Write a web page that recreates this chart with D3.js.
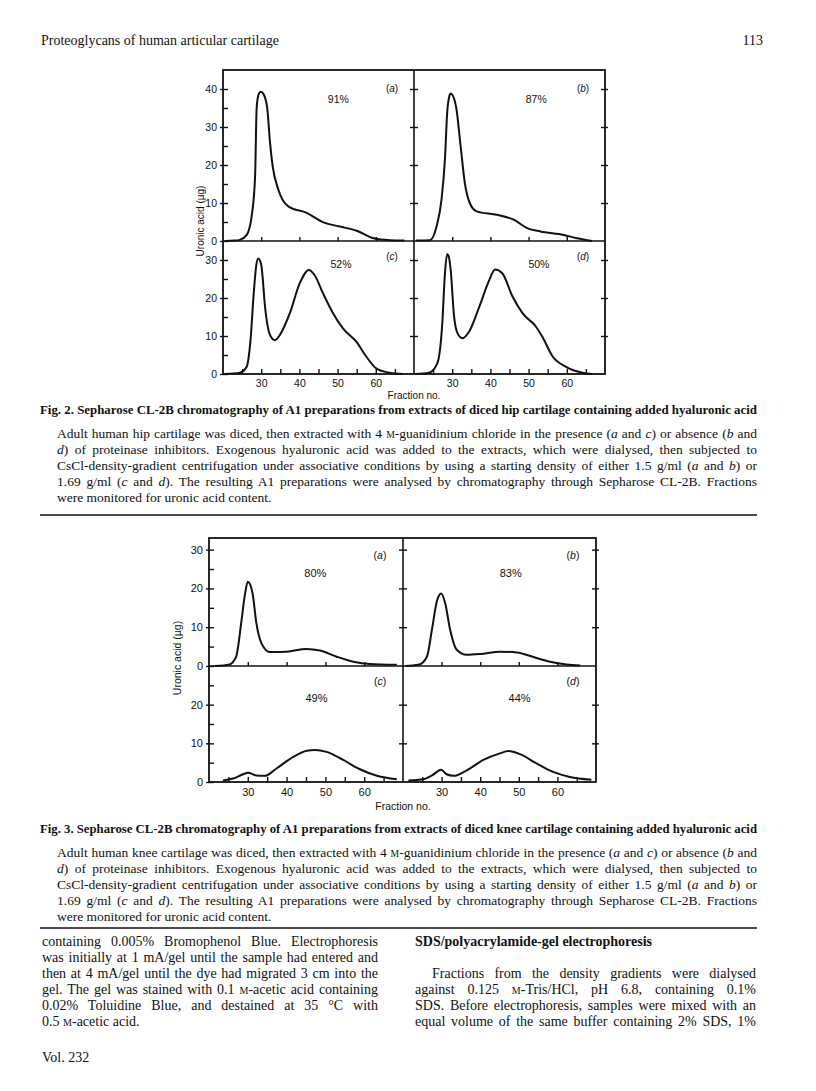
<!DOCTYPE html>
<html>
<head>
<meta charset="utf-8">
<script src="https://cdn.jsdelivr.net/npm/d3@7"></script>
<style>
  body { margin: 0; background: #fff; }
  svg { display: block; }
</style>
</head>
<body>
<script>
// fraction axis, shared by every panel
var fracDomain = [20, 70];
var fracMajor = [30, 40, 50, 60];
var fracMinor = [25, 35, 45, 55, 65];

// Fig. 2 (hip) y ticks
var hipTopTicks = [0, 10, 20, 30, 40];
var hipTopMinor = [5, 15, 25, 35];
var hipBotTicks = [0, 10, 20, 30];
var hipBotMinor = [5, 15, 25];

// Fig. 3 (knee) y ticks
var kneeTopTicks = [0, 10, 20, 30];
var kneeTopMinor = [5, 15, 25];
var kneeBotTicks = [0, 10, 20];
var kneeBotMinor = [5, 15, 25];

// [fraction no., uronic acid ug]
var hipA = [[20.5,0],[23,0.1],[24.4,0.3],[26.2,1.6],[27.5,6.5],[28.4,17],[28.8,34.8],[29.3,38.5],[29.9,39.3],[30.7,38.5],[31.6,34.8],[32.3,26],[33,19.7],[34.5,13.5],[37.1,9.1],[41.9,7.4],[46.3,4.9],[50.6,3.8],[55,2.7],[59.4,0.7],[63.7,0.2],[67.5,0.1]];
var hipB = [[20.5,0.1],[24.2,0.2],[25.9,3.8],[27.2,10.9],[28.1,21.5],[28.7,34],[29.2,37.9],[29.6,38.8],[30.2,38.2],[31.1,34.8],[32.2,25],[33.3,15.3],[34.6,10],[36.4,7.8],[41.7,6.9],[46.1,5.6],[49.6,3.4],[53.1,2.5],[59.2,1.6],[62.7,0.7],[66.6,0]];
var hipC = [[20.5,0],[24.4,0.35],[26.2,1.9],[27.2,8.9],[28.1,22],[28.7,28.5],[29.2,30.4],[29.7,29.8],[30.1,28.2],[31,17.7],[32.3,10.3],[33.6,8.9],[34.9,10.3],[37.5,16],[40.1,23.9],[42.5,27.4],[44,26],[46.2,21.2],[48.8,16],[51.4,12],[54.9,8.5],[57.5,4.6],[60.1,1.5],[63.6,0.35],[67.1,0]];
var hipD = [[20.4,0],[23.9,0.35],[26.1,2.8],[27.4,13.3],[28.1,26.5],[28.7,31.6],[29.2,30.5],[29.6,27.4],[30.5,15.1],[31.4,10.7],[32.7,9.4],[34.4,11.1],[37.1,17.7],[39.7,24.7],[41.2,27.5],[43.1,26.5],[45.8,20.4],[48.4,16],[51.9,12.5],[53.6,9.8],[56.3,4.6],[59.8,1.9],[64.1,0.35],[66.7,0]];

var kneeA = [[21.5,0],[25.3,0.4],[27,2.4],[28.3,11.1],[29.2,18],[30,21.7],[31.2,18.9],[32.2,11.1],[33.5,5.9],[35.7,3.6],[40,3.7],[45.1,4.4],[48.6,4],[52.9,2.4],[57.2,1.1],[61.5,0.5],[68.4,0.3]];
var kneeB = [[20.6,0],[24,0.3],[26.2,2.4],[27.5,9.4],[28.8,16.8],[29.9,18.7],[30.9,16.3],[32.2,9.4],[33.9,4.2],[36.5,2.9],[40,3.1],[45.1,3.7],[49.5,3.5],[53.8,2.3],[58.1,1.1],[62.4,0.4],[65.9,0.1]];
var kneeC = [[23.6,0.4],[26.2,0.9],[28.8,2],[30.1,2.4],[32.2,1.7],[34.4,1.6],[37.4,3.5],[41.7,6.5],[45.2,8.1],[47.3,8.3],[50.3,7.8],[54.6,5.7],[58.9,3.3],[63.3,1.6],[68.4,0.7]];
var kneeD = [[21.4,0.4],[25.3,0.7],[27.5,1.7],[29.9,3.2],[31.3,2],[33.1,1.6],[36.5,3],[40.8,5.7],[45.1,7.4],[47.3,8],[50.3,7.2],[54.6,4.8],[58.9,2.6],[63.2,1.3],[68.8,0.6]];

var hipPercents = ["91%", "87%", "52%", "50%"];
var kneePercents = ["80%", "83%", "49%", "44%"];
var panelLetters = ["a", "b", "c", "d"];

var sans = "'Liberation Sans', Arial, sans-serif";
var serif = "'Liberation Serif', 'Times New Roman', serif";
var ink = "#111";

var svg = d3.select("body").append("svg")
    .attr("width", 816)
    .attr("height", 1091);

function drawFigure(f) {
  var g = svg.append("g");
  var xL = d3.scaleLinear().domain(fracDomain).range([f.left, f.mid]);
  var xR = d3.scaleLinear().domain(fracDomain).range([f.mid, f.right]);
  var yT = d3.scaleLinear().domain([0, f.topMax]).range([f.zero, f.top]);
  var yB = d3.scaleLinear().domain([0, f.botMax]).range([f.bottom, f.zero]);

  // y ticks: labels on the left, inward ticks, crossing ticks on divider and right edge
  [[yT, f.topTicks, f.topMinor], [yB, f.botTicks, f.botMinor]].forEach(function (p) {
    var inner = p[1].filter(function (v) { return v > 0; });
    g.append("g").attr("transform", "translate(" + f.left + ",0)")
      .call(d3.axisLeft(p[0]).tickValues(p[1]).tickSize(3).tickPadding(3));
    g.append("g").attr("transform", "translate(" + f.left + ",0)")
      .call(d3.axisRight(p[0]).tickValues(p[1].concat(p[2])).tickSize(5).tickFormat(""));
    g.append("g").attr("transform", "translate(" + (f.mid - 4) + ",0)")
      .call(d3.axisRight(p[0]).tickValues(inner).tickSize(8).tickFormat(""));
    g.append("g").attr("transform", "translate(" + (f.right - 4) + ",0)")
      .call(d3.axisRight(p[0]).tickValues(inner).tickSize(7).tickFormat(""));
  });

  // x ticks
  [xL, xR].forEach(function (x) {
    g.append("g").attr("transform", "translate(0," + f.bottom + ")")
      .call(d3.axisBottom(x).tickValues(fracMajor).tickSize(0).tickPadding(6));
    g.append("g").attr("transform", "translate(0," + f.bottom + ")")
      .call(d3.axisTop(x).tickValues(fracMajor.concat(fracMinor)).tickSize(5).tickFormat(""));
    g.append("g").attr("transform", "translate(0," + f.zero + ")")
      .call(d3.axisTop(x).tickValues(fracMajor).tickSize(4).tickFormat(""));
  });

  g.selectAll(".domain").remove();
  g.selectAll(".tick line").attr("stroke", ink).attr("stroke-width", 1.4);
  g.selectAll(".tick text").attr("fill", ink)
    .attr("font-family", sans).attr("font-size", f.fontSize);

  // frame and dividers
  g.append("rect")
    .attr("x", f.left).attr("y", f.top)
    .attr("width", f.right - f.left).attr("height", f.bottom - f.top)
    .attr("fill", "none").attr("stroke", ink).attr("stroke-width", 1.8);
  g.append("line")
    .attr("x1", f.mid).attr("x2", f.mid).attr("y1", f.top).attr("y2", f.bottom)
    .attr("stroke", ink).attr("stroke-width", 1.6);
  g.append("line")
    .attr("x1", f.left).attr("x2", f.right).attr("y1", f.zero).attr("y2", f.zero)
    .attr("stroke", ink).attr("stroke-width", 1.6);

  var panels = [
    { x: xL, y: yT, data: f.series[0] },
    { x: xR, y: yT, data: f.series[1] },
    { x: xL, y: yB, data: f.series[2] },
    { x: xR, y: yB, data: f.series[3] }
  ];

  panels.forEach(function (p, i) {
    var line = d3.line()
      .x(function (d) { return p.x(d[0]); })
      .y(function (d) { return p.y(d[1]); })
      .curve(d3.curveMonotoneX);
    g.append("path")
      .attr("d", line(p.data))
      .attr("fill", "none")
      .attr("stroke", ink)
      .attr("stroke-width", 2)
      .attr("stroke-linejoin", "round");

    var top = i < 2;
    var pct = top ? f.pctTop : f.pctBot;
    var let_ = top ? f.letTop : f.letBot;
    g.append("text")
      .attr("x", p.x(f.pctX[i])).attr("y", p.y(pct))
      .attr("text-anchor", "middle")
      .attr("font-family", sans).attr("font-size", f.fontSize).attr("fill", ink)
      .text(f.percents[i]);
    var lt = g.append("text")
      .attr("x", p.x(70) - f.letOffset).attr("y", p.y(let_))
      .attr("text-anchor", "middle")
      .attr("font-family", sans).attr("font-size", f.fontSize - 0.5).attr("fill", ink);
    lt.append("tspan").text("(");
    lt.append("tspan").attr("font-style", "italic").text(panelLetters[i]);
    lt.append("tspan").text(")");
  });

  g.append("text")
    .attr("transform", "translate(" + f.yLabelX + "," + f.yLabelY + ") rotate(-90)")
    .attr("text-anchor", "middle")
    .attr("font-family", sans).attr("font-size", f.fontSize - 0.5).attr("fill", ink)
    .text("Uronic acid (\u00b5g)");

  g.append("text")
    .attr("x", f.mid).attr("y", f.bottom + f.xLabelDy)
    .attr("text-anchor", "middle")
    .attr("font-family", sans).attr("font-size", f.fontSize - 0.5).attr("fill", ink)
    .text("Fraction no.");
}

drawFigure({
  left: 223, mid: 414, right: 605, top: 70, zero: 241, bottom: 374,
  topMax: 45, botMax: 35,
  topTicks: hipTopTicks, topMinor: hipTopMinor,
  botTicks: hipBotTicks, botMinor: hipBotMinor,
  series: [hipA, hipB, hipC, hipD],
  percents: hipPercents,
  pctX: [50.2, 52, 50.9, 52.7], pctTop: 36.3, pctBot: 28,
  letTop: 39.3, letBot: 30,
  letOffset: 22,
  fontSize: 10.5,
  yLabelX: 204, yLabelY: 221,
  xLabelDy: 25
});

drawFigure({
  left: 209, mid: 403, right: 596, top: 538, zero: 666, bottom: 782,
  topMax: 33, botMax: 30,
  topTicks: kneeTopTicks, topMinor: kneeTopMinor,
  botTicks: kneeBotTicks, botMinor: kneeBotMinor,
  series: [kneeA, kneeB, kneeC, kneeD],
  percents: kneePercents,
  pctX: [47.4, 47.9, 47.7, 50.2], pctTop: 23, pctBot: 20.7,
  letTop: 27.5, letBot: 25,
  letOffset: 23,
  fontSize: 11,
  yLabelX: 181, yLabelY: 658,
  xLabelDy: 28
});

// ---- page text ----
// *x* = italic, ^M^ = small capital
function textLine(x, y, src, o) {
  o = o || {};
  var t = svg.append("text")
    .attr("x", x).attr("y", y)
    .attr("font-family", serif)
    .attr("font-size", o.size || 13.5)
    .attr("font-weight", o.bold ? "bold" : null)
    .attr("text-anchor", o.anchor || null)
    .attr("fill", ink);
  src.split(/(\*[^*]+\*|\^[^^]+\^)/).forEach(function (s) {
    if (!s) return;
    if (s[0] === "*") t.append("tspan").attr("font-style", "italic").text(s.slice(1, -1));
    else if (s[0] === "^") t.append("tspan").attr("font-size", (o.size || 13.5) * 0.72).text(s.slice(1, -1));
    else t.append("tspan").text(s);
  });
  if (o.width) {
    var natural = t.node().getComputedTextLength();
    var spaces = (src.match(/ /g) || []).length;
    if (o.squeeze || natural > o.width || !spaces) {
      t.attr("textLength", o.width).attr("lengthAdjust", "spacingAndGlyphs");
    } else {
      t.attr("word-spacing", (o.width - natural) / spaces);
    }
  }
  return t;
}

function rule(y) {
  svg.append("line").attr("x1", 40).attr("x2", 757).attr("y1", y).attr("y2", y)
    .attr("stroke", ink).attr("stroke-width", 1.3);
}

textLine(41, 45, "Proteoglycans of human articular cartilage", { size: 14 });
textLine(763, 45, "113", { size: 14, anchor: "end" });

var capStart = 57, capEnd = 757;
function caption(yHead, head, lines) {
  textLine(40, yHead, head, { bold: true, size: 13.5, width: 717, squeeze: true });
  lines.forEach(function (l, i) {
    var last = i === lines.length - 1;
    textLine(capStart, yHead + 24 + i * 16, l, { size: 13.5, width: last ? null : capEnd - capStart });
  });
}

caption(414,
  "Fig. 2. Sepharose CL-2B chromatography of A1 preparations from extracts of diced hip cartilage containing added hyaluronic acid",
  ["Adult human hip cartilage was diced, then extracted with 4 ^M^-guanidinium chloride in the presence (*a* and *c*) or absence (*b* and",
   "*d*) of proteinase inhibitors. Exogenous hyaluronic acid was added to the extracts, which were dialysed, then subjected to",
   "CsCl-density-gradient centrifugation under associative conditions by using a starting density of either 1.5 g/ml (*a* and *b*) or",
   "1.69 g/ml (*c* and *d*). The resulting A1 preparations were analysed by chromatography through Sepharose CL-2B. Fractions",
   "were monitored for uronic acid content."]);
rule(515);

caption(833,
  "Fig. 3. Sepharose CL-2B chromatography of A1 preparations from extracts of diced knee cartilage containing added hyaluronic acid",
  ["Adult human knee cartilage was diced, then extracted with 4 ^M^-guanidinium chloride in the presence (*a* and *c*) or absence (*b* and",
   "*d*) of proteinase inhibitors. Exogenous hyaluronic acid was added to the extracts, which were dialysed, then subjected to",
   "CsCl-density-gradient centrifugation under associative conditions by using a starting density of either 1.5 g/ml (*a* and *b*) or",
   "1.69 g/ml (*c* and *d*). The resulting A1 preparations were analysed by chromatography through Sepharose CL-2B. Fractions",
   "were monitored for uronic acid content."]);
rule(928);

var leftCol = [
  "containing 0.005% Bromophenol Blue. Electrophoresis",
  "was initially at 1 mA/gel until the sample had entered and",
  "then at 4 mA/gel until the dye had migrated 3 cm into the",
  "gel. The gel was stained with 0.1 ^M^-acetic acid containing",
  "0.02% Toluidine Blue, and destained at 35 \u00b0C with",
  "0.5 ^M^-acetic acid."
];
leftCol.forEach(function (l, i) {
  var last = i === leftCol.length - 1;
  textLine(42, 946 + i * 16, l, { size: 14, width: last ? null : 378 - 42 });
});

textLine(415, 946, "SDS/polyacrylamide-gel electrophoresis", { size: 14, bold: true });
var rightCol = [
  "Fractions from the density gradients were dialysed",
  "against 0.125 ^M^-Tris/HCl, pH 6.8, containing 0.1%",
  "SDS. Before electrophoresis, samples were mixed with an",
  "equal volume of the same buffer containing 2% SDS, 1%"
];
rightCol.forEach(function (l, i) {
  var x0 = i === 0 ? 432 : 415;
  textLine(x0, 978 + i * 16, l, { size: 14, width: 756 - x0 });
});

textLine(42, 1062, "Vol. 232", { size: 14 });
</script>
</body>
</html>
